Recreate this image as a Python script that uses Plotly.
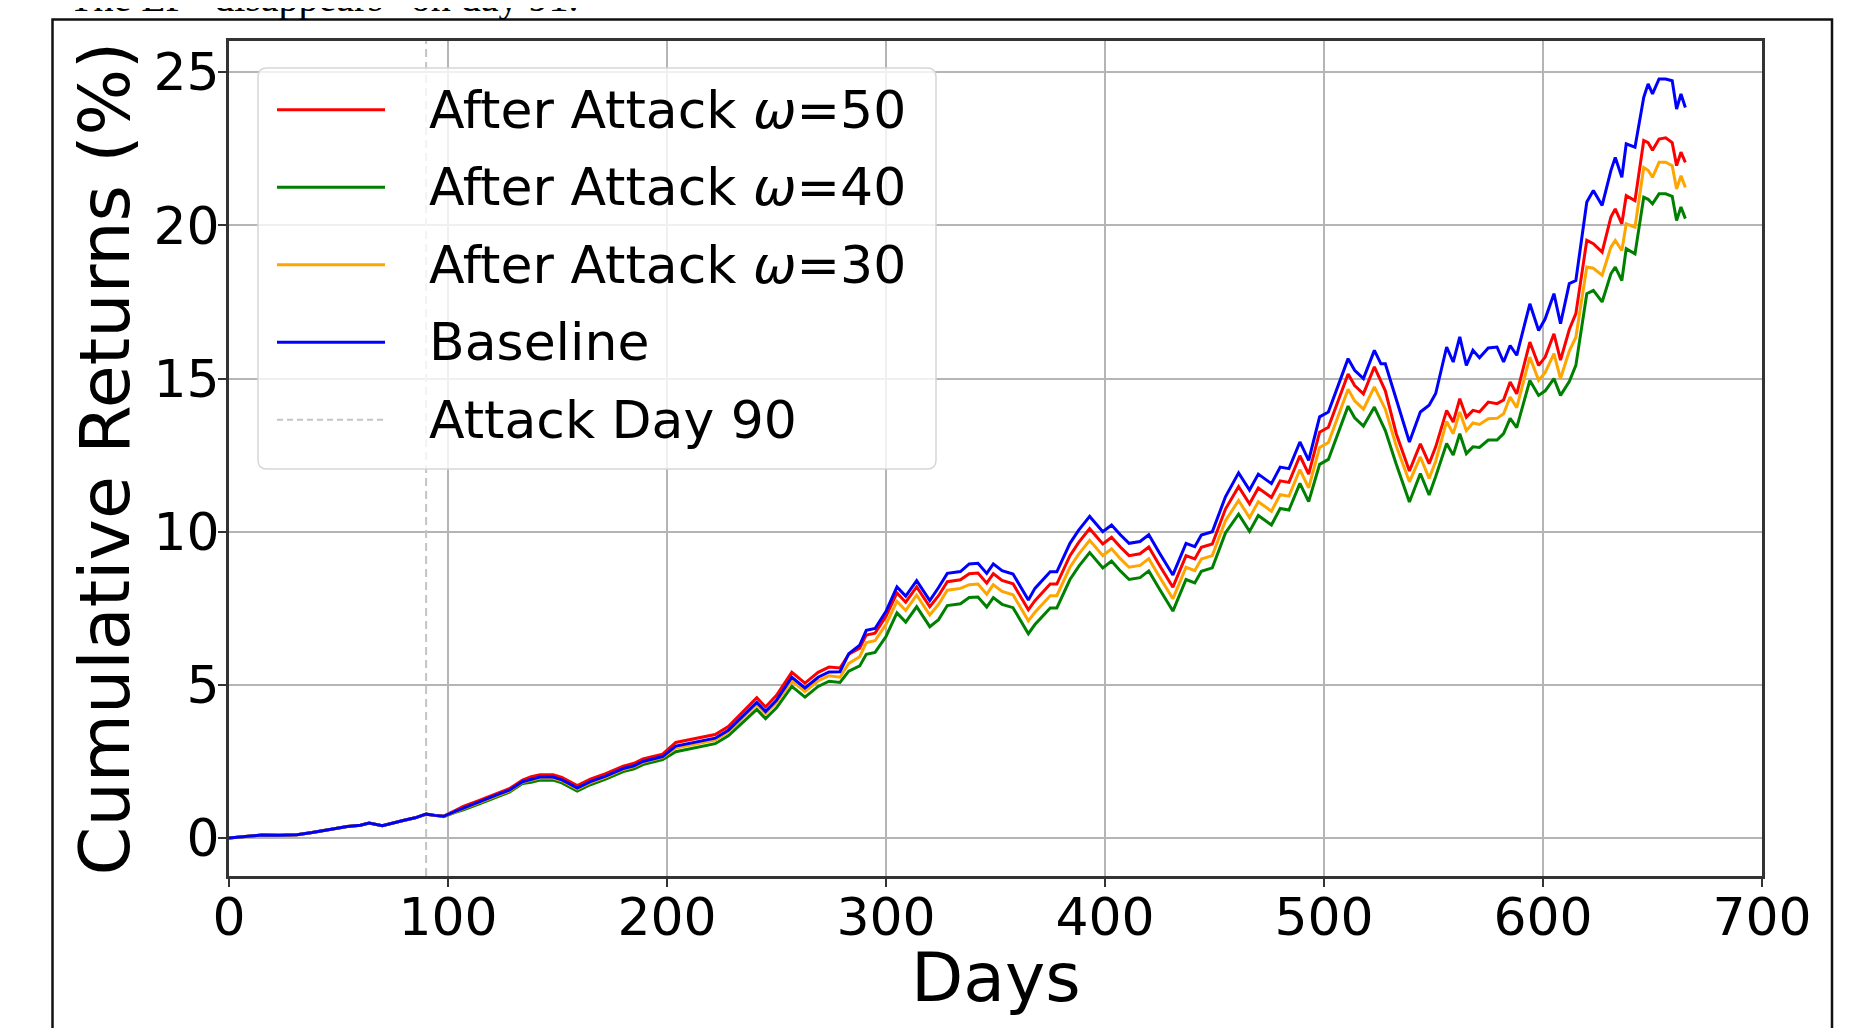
import plotly.graph_objects as go

# ---------------- data ----------------
days = [
    0, 8, 15, 23, 31, 38, 46, 54, 60, 64,
    70, 75, 80, 85, 90, 94, 98, 103, 107, 114,
    122, 128, 134, 138, 142, 148, 152, 156, 159, 165,
    172, 180, 185, 189, 194, 198, 204, 210, 215, 222,
    228, 236, 241, 245, 250, 257, 263, 269, 274, 279,
    283, 288, 291, 295, 300, 305, 309, 314, 320, 324,
    328, 334, 338, 342, 346, 349, 353, 358, 365, 368,
    375, 378, 384, 388, 393, 399, 403, 407, 411, 416,
    420, 425, 431, 437, 441, 444, 449, 455, 461, 466,
    470, 476, 480, 484, 489, 493, 498, 502, 505, 511,
    514, 518, 523, 526, 528, 533, 539, 544, 548, 551,
    556, 559, 562, 565, 568, 571, 575, 579, 582, 585,
    588, 594, 598, 601, 605, 608, 612, 615, 620, 623,
    627, 631, 633, 636, 638, 642, 646, 648, 650, 653,
    656, 659, 661, 663, 665,
]

baseline = [
    0.00, 0.06, 0.10, 0.09, 0.11, 0.18, 0.27, 0.38, 0.42, 0.49,
    0.40, 0.50, 0.58, 0.66, 0.78, 0.74, 0.71, 0.86, 0.98, 1.17,
    1.40, 1.56, 1.84, 1.92, 1.99, 1.99, 1.90, 1.75, 1.63, 1.84,
    2.02, 2.27, 2.36, 2.50, 2.60, 2.66, 3.00, 3.08, 3.15, 3.26,
    3.52, 4.06, 4.43, 4.13, 4.50, 5.25, 4.90, 5.25, 5.42, 5.43,
    6.02, 6.30, 6.78, 6.84, 7.40, 8.20, 7.90, 8.40, 7.75, 8.18,
    8.64, 8.70, 8.95, 8.97, 8.64, 8.95, 8.73, 8.62, 7.77, 8.15,
    8.69, 8.69, 9.62, 10.05, 10.50, 10.00, 10.22, 9.90, 9.62, 9.68,
    9.90, 9.29, 8.59, 9.62, 9.51, 9.89, 10.00, 11.14, 11.92, 11.36,
    11.88, 11.57, 12.11, 12.06, 12.93, 12.33, 13.75, 13.91, 14.51, 15.65,
    15.27, 15.00, 15.92, 15.48, 15.48, 14.29, 12.93, 13.91, 14.13, 14.51,
    16.03, 15.54, 16.36, 15.43, 15.92, 15.68, 16.00, 16.03, 15.54, 16.08,
    15.76, 17.44, 16.57, 16.95, 17.77, 16.79, 18.10, 18.20, 20.76, 21.14,
    20.65, 21.79, 22.22, 21.57, 22.66, 22.55, 24.18, 24.62, 24.29, 24.78,
    24.78, 24.72, 23.80, 24.29, 23.85,
]

omega50 = [
    0.00, 0.06, 0.10, 0.09, 0.11, 0.18, 0.27, 0.38, 0.42, 0.49,
    0.40, 0.50, 0.58, 0.66, 0.78, 0.74, 0.72, 0.89, 1.03, 1.22,
    1.45, 1.61, 1.89, 2.00, 2.07, 2.07, 1.98, 1.83, 1.71, 1.92,
    2.10, 2.35, 2.44, 2.58, 2.68, 2.74, 3.12, 3.20, 3.27, 3.38,
    3.64, 4.20, 4.58, 4.28, 4.66, 5.41, 5.06, 5.41, 5.58, 5.55,
    6.00, 6.20, 6.63, 6.69, 7.24, 8.00, 7.70, 8.20, 7.55, 7.91,
    8.37, 8.43, 8.63, 8.65, 8.32, 8.63, 8.41, 8.30, 7.45, 7.75,
    8.29, 8.29, 9.22, 9.65, 10.10, 9.60, 9.82, 9.50, 9.22, 9.28,
    9.50, 8.89, 8.19, 9.22, 9.11, 9.49, 9.60, 10.74, 11.47, 10.91,
    11.43, 11.12, 11.66, 11.61, 12.48, 11.88, 13.25, 13.41, 14.01, 15.15,
    14.77, 14.50, 15.38, 14.90, 14.60, 13.20, 11.98, 12.87, 12.22, 12.77,
    13.96, 13.58, 14.34, 13.74, 13.96, 13.91, 14.23, 14.18, 14.30, 14.89,
    14.50, 16.19, 15.43, 15.70, 16.46, 15.60, 16.60, 17.12, 19.51, 19.40,
    19.13, 20.27, 20.54, 20.05, 20.97, 20.81, 22.77, 22.70, 22.45, 22.82,
    22.86, 22.70, 21.95, 22.39, 22.06,
]

omega40 = [
    0.00, 0.06, 0.10, 0.09, 0.11, 0.18, 0.27, 0.38, 0.42, 0.49,
    0.40, 0.50, 0.58, 0.66, 0.78, 0.74, 0.70, 0.83, 0.92, 1.11,
    1.34, 1.50, 1.78, 1.82, 1.89, 1.89, 1.80, 1.65, 1.53, 1.74,
    1.92, 2.17, 2.26, 2.40, 2.50, 2.56, 2.82, 2.90, 2.97, 3.08,
    3.34, 3.86, 4.20, 3.90, 4.25, 4.95, 4.60, 4.95, 5.12, 5.08,
    5.45, 5.62, 6.00, 6.06, 6.58, 7.35, 7.05, 7.55, 6.90, 7.13,
    7.59, 7.65, 7.85, 7.87, 7.54, 7.85, 7.63, 7.52, 6.67, 6.97,
    7.51, 7.51, 8.44, 8.87, 9.32, 8.82, 9.04, 8.72, 8.44, 8.50,
    8.72, 8.11, 7.41, 8.44, 8.33, 8.71, 8.82, 9.96, 10.57, 10.01,
    10.53, 10.22, 10.76, 10.71, 11.58, 10.98, 12.20, 12.36, 12.96, 14.10,
    13.72, 13.45, 14.07, 13.60, 13.30, 12.20, 10.97, 11.90, 11.20, 11.80,
    12.88, 12.50, 13.20, 12.55, 12.77, 12.75, 12.99, 12.99, 13.20, 13.70,
    13.40, 14.94, 14.45, 14.60, 15.00, 14.45, 14.90, 15.43, 17.77, 17.88,
    17.50, 18.42, 18.64, 18.20, 19.24, 19.07, 20.92, 20.85, 20.70, 21.03,
    21.03, 20.95, 20.16, 20.60, 20.22,
]

omega30 = [
    0.00, 0.06, 0.10, 0.09, 0.11, 0.18, 0.27, 0.38, 0.42, 0.49,
    0.40, 0.50, 0.58, 0.66, 0.78, 0.74, 0.71, 0.85, 0.96, 1.15,
    1.38, 1.54, 1.82, 1.89, 1.96, 1.96, 1.87, 1.72, 1.60, 1.81,
    1.99, 2.24, 2.33, 2.47, 2.57, 2.63, 2.94, 3.02, 3.09, 3.20,
    3.46, 4.00, 4.36, 4.06, 4.42, 5.13, 4.78, 5.13, 5.30, 5.25,
    5.70, 5.92, 6.38, 6.44, 6.98, 7.73, 7.43, 7.93, 7.28, 7.63,
    8.09, 8.15, 8.27, 8.29, 7.96, 8.27, 8.05, 7.94, 7.09, 7.37,
    7.91, 7.91, 8.84, 9.27, 9.72, 9.22, 9.44, 9.12, 8.84, 8.90,
    9.12, 8.51, 7.81, 8.84, 8.73, 9.11, 9.22, 10.36, 11.02, 10.46,
    10.98, 10.67, 11.21, 11.16, 12.03, 11.43, 12.75, 12.91, 13.51, 14.65,
    14.27, 14.00, 14.73, 14.30, 14.00, 12.80, 11.63, 12.44, 11.74, 12.30,
    13.60, 13.20, 13.91, 13.30, 13.55, 13.50, 13.69, 13.70, 13.85, 14.40,
    14.05, 15.70, 14.94, 15.20, 15.81, 15.00, 15.90, 16.35, 18.64, 18.60,
    18.37, 19.29, 19.51, 19.18, 20.05, 19.94, 21.89, 21.80, 21.57, 22.06,
    22.06, 21.95, 21.19, 21.62, 21.24,
]

ATTACK_DAY = 90
x_ticks = [0, 100, 200, 300, 400, 500, 600, 700]
y_ticks = [0, 5, 10, 15, 20, 25]

series_names = ["After Attack <i>ω</i>=50", "After Attack <i>ω</i>=40",
                "After Attack <i>ω</i>=30", "Baseline"]
series_values = [omega50, omega40, omega30, baseline]
series_colors = ["red", "green", "orange", "blue"]
attack_label = f"Attack Day {ATTACK_DAY}"
header_text = "The LP “disappears” on day 91."
x_title = "Days"
y_title = "Cumulative Returns (%)"

# ---------------- layout geometry (screen pixels) ----------------
OFF = 8                      # page body margin of the html page
SW, SH = 1870, 1028          # screen size
W, H = SW - OFF, SH - OFF    # figure size
L, R, T, B = 229, 1762, 41, 876   # plot area in screen pixels
FONT = "DejaVu Sans"


def px(x):
    return (x - L) / (R - L)


def py(y):
    return (B - y) / (B - T)


fig = go.Figure()
for name, vals, col in zip(series_names, series_values, series_colors):
    fig.add_trace(go.Scatter(x=days, y=vals, mode="lines", name=name,
                             line=dict(color=col, width=3)))

y_lo = -0.05 * max(baseline)
y_hi = max(baseline) * 1.05

shapes = []
# attack day vertical line
shapes.append(dict(type="line", xref="x", yref="y domain", x0=ATTACK_DAY, x1=ATTACK_DAY,
                   y0=0, y1=1, line=dict(color="#c4c4c4", width=2, dash="8px,5px"),
                   layer="above"))
# outer page frame
shapes.append(dict(type="rect", xref="paper", yref="paper", x0=px(52.5), x1=px(1832),
                   y0=py(1300), y1=py(19.5), line=dict(color="#111111", width=2.5),
                   fillcolor="rgba(0,0,0,0)", layer="above"))

# legend box (rounded)
lx0, lx1, ly0, ly1, rad = 258, 936, 68, 469, 9


def P(x, y):
    return f"{px(x):.6f},{py(y):.6f}"


path = (f"M {P(lx0 + rad, ly0)} L {P(lx1 - rad, ly0)} Q {P(lx1, ly0)} {P(lx1, ly0 + rad)} "
        f"L {P(lx1, ly1 - rad)} Q {P(lx1, ly1)} {P(lx1 - rad, ly1)} "
        f"L {P(lx0 + rad, ly1)} Q {P(lx0, ly1)} {P(lx0, ly1 - rad)} "
        f"L {P(lx0, ly0 + rad)} Q {P(lx0, ly0)} {P(lx0 + rad, ly0)} Z")
shapes.append(dict(type="path", xref="paper", yref="paper", path=path,
                   line=dict(color="#d6d6d6", width=1.5),
                   fillcolor="rgba(255,255,255,0.8)", layer="above"))

annotations = []
rows_y = [109.7, 187.2, 264.8, 342.3, 419.8]
legend_labels = series_names + [attack_label]
legend_colors = series_colors + ["#c4c4c4"]
for i, (lab, col) in enumerate(zip(legend_labels, legend_colors)):
    yy = rows_y[i]
    dash = "6px,4px" if i == 4 else "solid"
    shapes.append(dict(type="line", xref="paper", yref="paper", x0=px(277), x1=px(385),
                       y0=py(yy), y1=py(yy), line=dict(color=col, width=3 if i < 4 else 2, dash=dash),
                       layer="above"))
    annotations.append(dict(xref="paper", yref="paper", x=px(427), y=py(yy), xanchor="left",
                            yanchor="middle", text=lab, showarrow=False,
                            font=dict(family=FONT, size=52, color="black")))

# header text of the page (cut off at the top)
annotations.append(dict(xref="paper", yref="paper", x=px(67), y=py(22), xanchor="left",
                        yanchor="bottom", text=header_text, showarrow=False,
                        font=dict(family="Liberation Serif", size=40, color="black")))
# axis titles
annotations.append(dict(xref="paper", yref="paper", x=0.5, y=py(977), xanchor="center",
                        yanchor="middle", text=x_title, showarrow=False,
                        font=dict(family=FONT, size=68, color="black")))
annotations.append(dict(xref="paper", yref="paper", x=px(104), y=0.5, xanchor="center",
                        yanchor="middle", text=y_title, showarrow=False, textangle=-90,
                        font=dict(family=FONT, size=70, color="black")))

fig.update_layout(
    width=W, height=H,
    margin=dict(l=L - OFF, r=W - (R - OFF), t=T - OFF, b=H - (B - OFF), autoexpand=False),
    plot_bgcolor="white", paper_bgcolor="white",
    showlegend=False,
    font=dict(family=FONT, color="black"),
    shapes=shapes, annotations=annotations,
    xaxis=dict(range=[0, 700], tickvals=x_ticks, ticks="outside", ticklen=8, tickwidth=2,
               tickcolor="#333333", showline=True, mirror=True, linecolor="#333333", linewidth=3,
               showgrid=True, gridcolor="#b5b5b5", gridwidth=2, zeroline=False, automargin=False,
               ticklabelstandoff=-14,
               tickfont=dict(family=FONT, size=52, color="black")),
    yaxis=dict(range=[y_lo, y_hi], tickvals=y_ticks, ticks="outside", ticklen=8, tickwidth=2,
               tickcolor="#333333", showline=True, mirror=True, linecolor="#333333", linewidth=3,
               showgrid=True, gridcolor="#b5b5b5", gridwidth=2, zeroline=False, automargin=False,
               ticklabelstandoff=-12,
               tickfont=dict(family=FONT, size=52, color="black")),
)

fig.write_html("out.html")
